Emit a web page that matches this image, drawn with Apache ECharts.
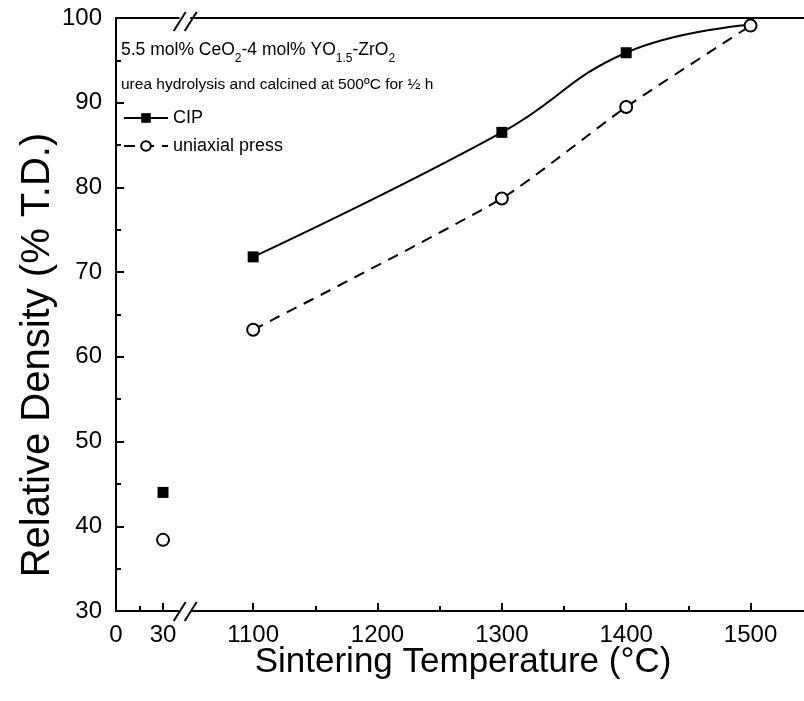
<!DOCTYPE html>
<html>
<head>
<meta charset="utf-8">
<script src="https://cdn.jsdelivr.net/npm/echarts@6/dist/echarts.min.js"></script>
<style>
  html, body { margin: 0; padding: 0; background: #fff; }
  #chart { width: 804px; height: 701px; }
</style>
</head>
<body>
<div id="chart"></div>
<script>
// tick values on the two pieces of the broken x axis
const lowTicks = [0, 30]
const lowMinor = [15]
const highTicks = [1100, 1200, 1300, 1400, 1500]
const highMinor = [1150, 1250, 1350, 1450]

// sintering temperatures (green body = 30 °C)
const tempLow = [30]
const tempHigh = [1100, 1300, 1400, 1500]

// relative density, % T.D.
const cipLow = [44.0]
const cipHigh = [71.8, 86.5, 95.9, 99.2]
const uniLow = [38.4]
const uniHigh = [63.2, 78.7, 89.5, 99.1]

const FONT = '"Liberation Sans", Arial, sans-serif'
const black = '#000'

const chart = echarts.init(document.getElementById('chart'), null, { renderer: 'canvas' })

function xAx(grid, min, max, pos, ticks, len, labels) {
  return {
    type: 'value',
    gridIndex: grid,
    position: pos,
    min: min,
    max: max,
    splitLine: { show: false },
    axisLine: { show: labels || pos === 'top', onZero: false, lineStyle: { color: black, width: 2 } },
    axisTick: ticks ? { show: true, inside: true, length: len, customValues: ticks, lineStyle: { color: black, width: 2 } } : { show: false },
    axisLabel: labels
      ? { show: true, customValues: ticks, formatter: v => String(v), margin: 12, color: black, fontSize: 24, fontFamily: FONT }
      : { show: false },
  }
}

const yBase = {
  type: 'value',
  min: 30,
  max: 100,
  interval: 10,
  splitLine: { show: false },
}

chart.setOption({
  animation: false,
  backgroundColor: '#fff',
  grid: [
    { left: 116, top: 18, bottom: 90, width: 62.7 },
    { left: 191, top: 18, bottom: 90, right: 0 },
  ],
  xAxis: [
    xAx(0, 0, 40, 'bottom', lowTicks, 8, true),
    xAx(0, 0, 40, 'bottom', lowMinor, 5, false),
    xAx(0, 0, 40, 'top', null, 0, false),
    xAx(1, 1050, 1543, 'bottom', highTicks, 8, true),
    xAx(1, 1050, 1543, 'bottom', highMinor, 5, false),
    xAx(1, 1050, 1543, 'top', null, 0, false),
  ],
  yAxis: [
    Object.assign({}, yBase, {
      gridIndex: 0,
      axisLine: { show: true, onZero: false, lineStyle: { color: black, width: 2 } },
      axisTick: { show: true, inside: true, length: 8, lineStyle: { color: black, width: 2 } },
      minorTick: { show: true, splitNumber: 2, length: 5, lineStyle: { color: black, width: 2 } },
      axisLabel: { margin: 14, color: black, fontSize: 24, fontFamily: FONT },
    }),
    Object.assign({}, yBase, { gridIndex: 1, show: false }),
  ],
  legend: {
    orient: 'vertical',
    left: 118,
    top: 104,
    itemWidth: 44,
    itemHeight: 12,
    itemGap: 10,
    data: ['CIP', 'uniaxial press'],
    textStyle: { color: black, fontSize: 18, fontFamily: FONT },
  },
  series: [
    {
      name: 'CIP',
      type: 'line',
      xAxisIndex: 3,
      yAxisIndex: 1,
      smooth: 0.45,
      data: tempHigh.map((t, i) => i === tempHigh.length - 1
        ? { value: [t, cipHigh[i]], symbol: 'none' }
        : [t, cipHigh[i]]),
      symbol: 'rect',
      symbolSize: 11,
      itemStyle: { color: black, opacity: 1 },
      lineStyle: { color: black, width: 2 },
    },
    {
      name: 'uniaxial press',
      type: 'line',
      xAxisIndex: 3,
      yAxisIndex: 1,
      smooth: 0.2,
      data: tempHigh.map((t, i) => [t, uniHigh[i]]),
      symbol: 'circle',
      symbolSize: 12,
      itemStyle: { color: '#fff', borderColor: black, borderWidth: 2, opacity: 1 },
      lineStyle: { color: black, width: 2, type: [11, 8] },
    },
    {
      name: 'CIP',
      type: 'scatter',
      xAxisIndex: 0,
      yAxisIndex: 0,
      data: tempLow.map((t, i) => [t, cipLow[i]]),
      symbol: 'rect',
      symbolSize: 11,
      itemStyle: { color: black, opacity: 1 },
    },
    {
      name: 'uniaxial press',
      type: 'scatter',
      xAxisIndex: 0,
      yAxisIndex: 0,
      data: tempLow.map((t, i) => [t, uniLow[i]]),
      symbol: 'circle',
      symbolSize: 12,
      itemStyle: { color: '#fff', borderColor: black, borderWidth: 2, opacity: 1 },
    },
  ],
})

// axis titles, composition note and the "//" break marks
const breakX = chart.convertToPixel({ xAxisIndex: 0 }, 40)
const topY = chart.convertToPixel({ yAxisIndex: 0 }, 100)
const botY = chart.convertToPixel({ yAxisIndex: 0 }, 30)

function slash(x, y) {
  return { type: 'line', shape: { x1: x - 6, y1: y + 10, x2: x + 6, y2: y - 9 }, style: { stroke: black, lineWidth: 2 } }
}

chart.setOption({
  graphic: [
    slash(breakX + 1, botY), slash(breakX + 12, botY),
    slash(breakX + 1, topY + 3), slash(breakX + 12, topY + 3),
    {
      type: 'text',
      left: 121,
      top: 35,
      style: {
        text: '5.5 mol% CeO{sub|2}-4 mol% YO{sub|1.5}-ZrO{sub|2}',
        fill: black,
        font: '17.5px ' + FONT,
        lineHeight: 30,
        rich: {
          sub: { fontSize: 12, fontFamily: FONT, fill: black, verticalAlign: 'bottom', lineHeight: 12 },
        },
      },
    },
    {
      type: 'text',
      left: 121,
      top: 77,
      style: {
        text: 'urea hydrolysis and calcined at 500ºC for ½ h',
        fill: black,
        font: '15.5px ' + FONT,
      },
    },
    {
      type: 'text',
      x: 38,
      y: 355,
      rotation: Math.PI / 2,
      style: {
        text: 'Relative Density (% T.D.)',
        fill: black,
        font: '40px ' + FONT,
        align: 'center',
        verticalAlign: 'middle',
      },
    },
    {
      type: 'text',
      x: 463,
      y: 662,
      style: {
        text: 'Sintering Temperature (°C)',
        fill: black,
        font: '35px ' + FONT,
        align: 'center',
        verticalAlign: 'middle',
      },
    },
  ],
})
</script>
</body>
</html>
